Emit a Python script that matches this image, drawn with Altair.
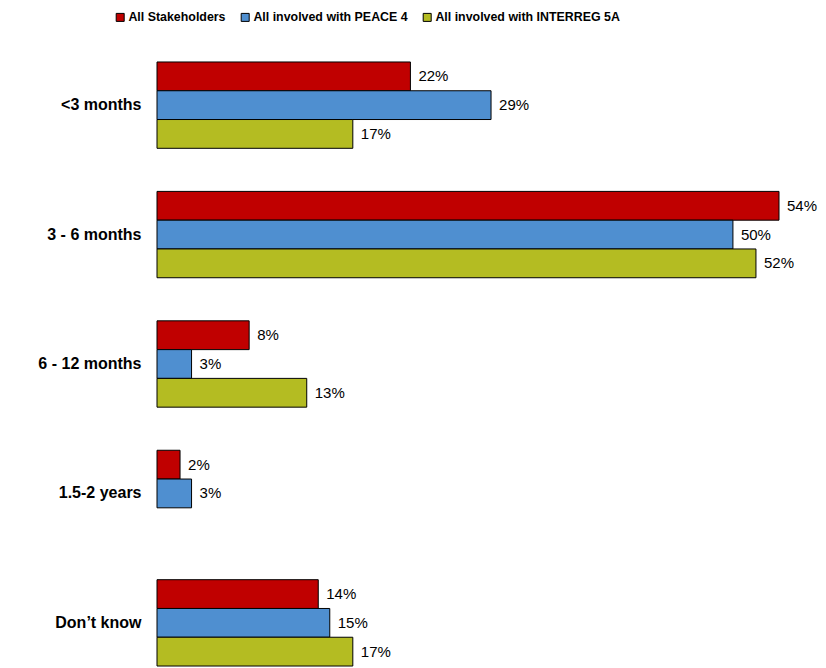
import altair as alt
import pandas as pd

categories = ["<3 months", "3 - 6 months", "6 - 12 months", "1.5-2 years", "Don\u2019t know"]
series_names = ["All Stakeholders", "All involved with PEACE 4", "All involved with INTERREG 5A"]
all_stakeholders = [22, 54, 8, 2, 14]
peace4 = [29, 50, 3, 3, 15]
interreg5a = [17, 52, 13, None, 17]
colors = ["#C00000", "#4F8FD0", "#B4BC22"]

rows = []
for name, vals in zip(series_names, [all_stakeholders, peace4, interreg5a]):
    for cat, v in zip(categories, vals):
        if v is not None:
            rows.append({"category": cat, "series": name, "value": v, "label": f"{v}%"})
df = pd.DataFrame(rows)

font = "Liberation Sans"

y_enc = alt.Y("category:N", sort=categories,
              scale=alt.Scale(paddingInner=0.333, paddingOuter=0.023, range=[0, 610]),
              axis=alt.Axis(title=None, domain=False, ticks=False, labelPadding=16,
                            labelFontSize=16, labelFontWeight="bold", labelFont=font,
                            labelColor="black", labelLimit=300))
yoff_enc = alt.YOffset("series:N", sort=series_names, scale=alt.Scale(domain=series_names))
x_enc = alt.X("value:Q", scale=alt.Scale(domain=[0, 54], nice=False), axis=None)

bars = alt.Chart(df).mark_bar(stroke="black", strokeWidth=1, opacity=1).encode(
    y=y_enc,
    yOffset=yoff_enc,
    x=x_enc,
    color=alt.Color("series:N", sort=series_names,
                    scale=alt.Scale(domain=series_names, range=colors),
                    legend=alt.Legend(title=None, orient="none", legendX=-43, legendY=-48,
                                      direction="horizontal", symbolType="square",
                                      symbolSize=64, symbolStrokeColor="black",
                                      symbolStrokeWidth=1, symbolOpacity=1,
                                      labelFont=font, labelFontSize=12.4,
                                      labelFontWeight="bold", labelColor="black",
                                      labelOffset=2, columnPadding=13, labelLimit=400)),
)

labels = alt.Chart(df).mark_text(align="left", baseline="middle", dx=8, fontSize=15,
                                 font=font, color="black").encode(
    y=alt.Y("category:N", sort=categories),
    yOffset=alt.YOffset("series:N", sort=series_names),
    x=alt.X("value:Q"),
    text="label:N",
)

chart = alt.layer(bars, labels).properties(
    width=622, height=600,
    autosize=alt.AutoSizeParams(type="none"),
    padding={"left": 149, "top": 51, "right": 39, "bottom": 8},
    background="white",
).configure_view(stroke=None)

chart.save("out.html", embed_options={"renderer": "svg", "actions": False})
